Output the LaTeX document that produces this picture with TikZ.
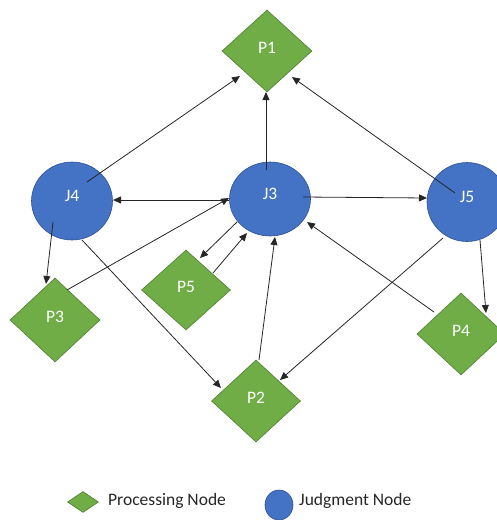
\documentclass[tikz,border=0pt]{standalone}
\usepackage{fontspec}
\setmainfont{Carlito}
\usetikzlibrary{shapes.geometric,arrows.meta,calc}
\definecolor{pgreen}{HTML}{70AD47}
\definecolor{pgreenb}{HTML}{507E32}
\definecolor{jblue}{HTML}{4472C4}
\definecolor{jblueb}{HTML}{2F528F}
\begin{document}
\begin{tikzpicture}[x=1pt,y=-1pt,
  pnode/.style={diamond,fill=pgreen,draw=pgreenb,line width=0.6pt,inner sep=0pt,text=white,text height=11pt,text depth=6pt,font=\fontsize{17.5}{20}\selectfont},
  jnode/.style={ellipse,fill=jblue,draw=jblueb,line width=0.6pt,inner sep=0pt,text=white,text height=11pt,text depth=10pt,font=\fontsize{17.5}{20}\selectfont},
  arr/.style={-{Triangle[length=8pt,width=7pt]},line width=0.8pt,draw=black!85},
  legtext/.style={anchor=west,inner sep=0pt,font=\fontsize{17.5}{20}\selectfont,text=black!85}]
\useasboundingbox (0,0) rectangle (497,520);
% nodes
\node[pnode,minimum width=90pt,minimum height=82pt] (P1) at (267,51) {P1};
\node[jnode,minimum width=81pt,minimum height=78pt] (J4) at (72,201) {J4};
\node[jnode,minimum width=81pt,minimum height=74pt] (J3) at (270,199) {J3};
\node[jnode,minimum width=80pt,minimum height=79pt] (J5) at (467,202) {J5};
\node[pnode,minimum width=90pt,minimum height=84pt] (P3) at (55,320) {P3};
\node[pnode,minimum width=89pt,minimum height=80pt] (P5) at (186,290) {P5};
\node[pnode,minimum width=89pt,minimum height=82pt] (P2) at (256,401) {P2};
\node[pnode,minimum width=88pt,minimum height=82pt] (P4) at (461,334) {P4};
% connectors
\draw[arr] ($(J4)+(15,-19)$) -- ($(P1)+(-27,25)$);
\draw[arr] ($(J3)+(-4,-29)$) -- ($(P1)+(-1,41)$);
\draw[arr] ($(J5)+(-12,-9)$) -- ($(P1)+(25,26)$);
\draw[arr] ($(J3)+(-41,1)$) -- ($(J4)+(41,-1)$);
\draw[arr] ($(J3)+(33,-2)$) -- ($(J5)+(-40,-4)$);
\draw[arr] ($(P3)+(12,-30)$) -- ($(J3)+(-41,-1)$);
\draw[arr] ($(J3)+(-33,23)$) -- ($(P5)+(14,-32)$);
\draw[arr] ($(P5)+(27,-17)$) -- ($(J3)+(-23,34)$);
\draw[arr] ($(P2)+(3,-41)$) -- ($(J3)+(5,38)$);
\draw[arr] ($(J4)+(-19,21)$) -- ($(P3)+(-9,-36)$);
\draw[arr] ($(J4)+(10,39)$) -- ($(P2)+(-35,-13)$);
\draw[arr] ($(J5)+(-24,36)$) -- ($(P2)+(24,-21)$);
\draw[arr] ($(P4)+(-27,-22)$) -- ($(J3)+(37,23)$);
\draw[arr] ($(J5)+(13,38)$) -- ($(P4)+(25,-21)$);
% legend
\node[pnode,minimum width=31pt,minimum height=21pt] (Lp) at (83,502) {};
\node[legtext] (Lpt) at (108,501) {Processing Node};
\node[jnode,minimum width=28pt,minimum height=30pt] (Lj) at (279,505) {};
\node[legtext] (Ljt) at (299,501) {Judgment Node};
\end{tikzpicture}
\end{document}
